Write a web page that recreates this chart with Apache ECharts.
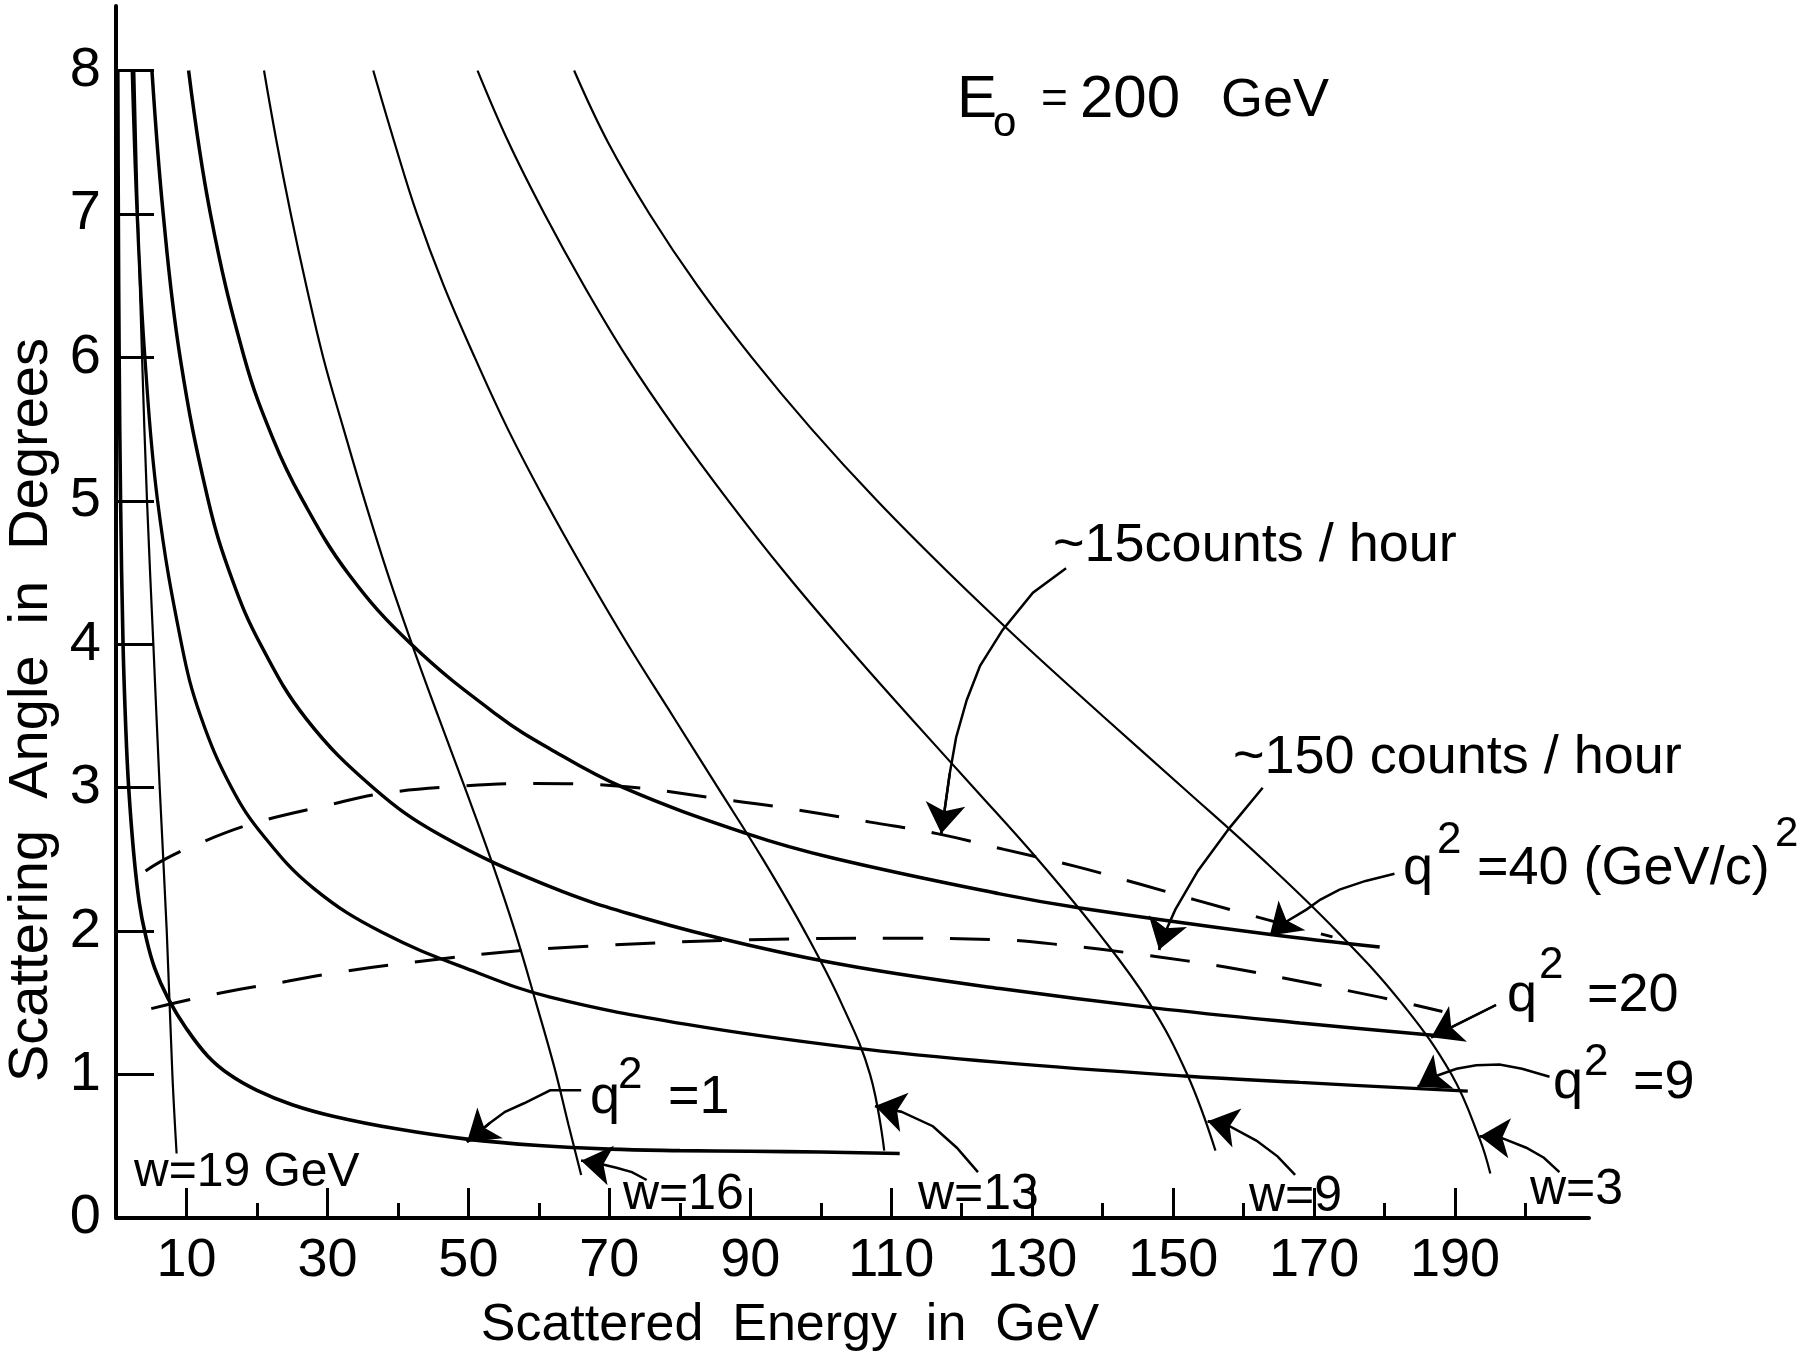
<!DOCTYPE html>
<html>
<head>
<meta charset="utf-8">
<script src="https://cdn.jsdelivr.net/npm/echarts@6/dist/echarts.min.js"></script>
<style>html,body{margin:0;padding:0;background:#fff}#c{width:1806px;height:1360px}</style>
</head>
<body>
<div id="c"></div>
<script>
// ---- tick values ----
var xMajorTicks = [10, 30, 50, 70, 90, 110, 130, 150, 170, 190];
var xMinorTicks = [20, 40, 60, 80, 100, 120, 140, 160, 180, 200];
var yTickLabels = [0, 1, 2, 3, 4, 5, 6, 7, 8];
var yTicks = [1, 2, 3, 4, 5, 6, 7, 8];

// ---- constant q^2 curves [scattered energy GeV, angle deg] ----
var q2_1 = [[0.26,8.0],[0.33,7.0],[0.45,6.0],[0.65,5.0],[1.0,4.0],[1.4,3.4],[1.8,3.0],[2.5,2.55],[3.3,2.2],[4.2,1.97],[5.5,1.74],[7.4,1.53],[10,1.32],[13,1.13],[16.1,1.0],[20,0.89],[25,0.79],[30.8,0.71],[40,0.62],[49.8,0.55],[60,0.505],[70,0.48],[80,0.47],[90,0.465],[100,0.46],[111.2,0.45]];
var q2_9 = [[2.3,8.0],[3.0,7.0],[4.1,6.0],[5.9,5.0],[9.3,4.0],[12,3.5],[16.4,3.0],[21,2.66],[28,2.3],[37.8,1.99],[51.3,1.71],[61.6,1.54],[81,1.35],[104,1.19],[125.4,1.085],[151.6,0.99],[168,0.945],[191.8,0.885]];
var q2_20 = [[5.1,8.0],[6.7,7.0],[9.1,6.0],[13.1,5.0],[16.5,4.45],[20.5,4.0],[27,3.48],[36.5,3.0],[46,2.67],[61.6,2.31],[75,2.09],[90,1.9],[105,1.75],[125.4,1.6],[147.2,1.465],[168,1.36],[190,1.26]];
var q2_40 = [[10.3,8.0],[13.4,7.0],[18.2,6.0],[22.3,5.43],[26.3,5.02],[33,4.49],[41.9,4.0],[54,3.51],[61.6,3.27],[72,3.0],[89.5,2.68],[101.7,2.51],[125.4,2.26],[137,2.16],[163.3,1.98],[179.3,1.89]];

// ---- constant w curves ----
var w19 = [[2.6,8.0],[3.1,7.0],[3.7,6.0],[4.4,5.0],[5.3,4.0],[6.2,3.0],[7.2,2.0],[8.0,1.0],[8.6,0.45]];
var w16 = [[21,8.0],[22.8,7.5],[24.8,7.0],[27,6.5],[29.4,6.0],[32.3,5.5],[35.3,5.0],[38.5,4.5],[42,4.0],[45.7,3.5],[49.5,3.0],[53.2,2.5],[56.6,2.0],[59.6,1.5],[62.2,1.05],[64.2,0.65],[66,0.3]];
var w13 = [[36.5,8.0],[39.5,7.5],[42.7,7.0],[46.5,6.5],[50.9,6.0],[55.6,5.5],[60.9,5.0],[66.6,4.5],[72.6,4.0],[79,3.5],[85.4,3.0],[91.8,2.5],[97.7,2.0],[102.9,1.5],[107,1.0],[109,0.47]];
var w9 = [[51.3,8.0],[55.7,7.5],[60.8,7.0],[66.4,6.5],[72.5,6.0],[79.4,5.5],[86.9,5.0],[94.9,4.5],[103.5,4.0],[112.5,3.5],[121.7,3.0],[130.8,2.5],[139.2,2.0],[146.6,1.5],[152,1.0],[156,0.47]];
var w3 = [[65,8.0],[69.8,7.5],[75.7,7.0],[82.5,6.5],[90.2,6.0],[98.7,5.5],[108,5.0],[118.1,4.5],[128.8,4.0],[140,3.5],[151.4,3.0],[162.7,2.5],[173.2,2.0],[182.4,1.5],[189.5,1.0],[193.5,0.55],[195,0.31]];

// ---- count-rate contours (dashed) ----
var counts15 = [[4.2,2.42],[6.9,2.5],[11.2,2.6],[19.4,2.75],[30.2,2.88],[37.8,2.96],[48.7,3.01],[59.5,3.03],[68.7,3.02],[87.5,2.91],[97.4,2.84],[107,2.76],[116.5,2.68],[126,2.57],[136.3,2.45],[145.1,2.33],[153,2.22],[163.3,2.08],[172.6,1.96]];
var counts150 = [[5,1.46],[15,1.57],[24.3,1.65],[32.4,1.72],[43.3,1.79],[54.1,1.85],[65,1.89],[90,1.94],[110,1.95],[125.4,1.94],[134.9,1.9],[146.5,1.83],[157.4,1.75],[168,1.65],[179.3,1.54],[188.2,1.44]];

// ---- annotation arrows (data coordinates, last point = arrow tip) ----
var arrow15 = [[134.8,4.53],[130.1,4.36],[125.8,4.1],[122.6,3.85],[120.7,3.61],[119.2,3.35],[118.3,3.1],[117.1,2.68]];
var arrow150 = [[162.7,3.0],[158,2.72],[153.5,2.42],[150.3,2.15],[148.5,1.95],[148,1.87]];
var arrowQ40 = [[181.4,2.4],[177.3,2.35],[173.6,2.29],[170.9,2.22],[168.9,2.15],[165.5,2.05],[163.7,1.97]];
var arrowQ20 = [[195.8,1.485],[186.6,1.26]];
var arrowQ9 = [[203.4,0.985],[199.5,1.04],[196.3,1.07],[193,1.065],[190.2,1.04],[187.3,0.99],[184.7,0.915]];
var arrowQ1 = [[66,0.89],[61.6,0.89],[57.9,0.8],[55.2,0.74],[53,0.66],[49.8,0.53]];
var arrowW16 = [[75.3,0.265],[73.2,0.32],[71,0.35],[68.5,0.38],[66,0.4]];
var arrowW13 = [[122.3,0.32],[119.3,0.49],[115.9,0.64],[111.5,0.74],[107.7,0.78]];
var arrowW9 = [[167.3,0.3],[164.8,0.43],[161.8,0.54],[158,0.64],[154.9,0.675]];
var arrowW3 = [[204.8,0.32],[202.6,0.42],[200.1,0.49],[196.5,0.56],[193.5,0.57]];
var arrowList = [arrow15, arrow150, arrowQ40, arrowQ20, arrowQ9, arrowQ1, arrowW16, arrowW13, arrowW9, arrowW3];

var FONT = '"Liberation Sans", Arial, sans-serif';
var chart = echarts.init(document.getElementById('c'), null, {renderer: 'canvas'});

function curve(name, data, width, dashed) {
  return {
    name: name, type: 'line', data: data, smooth: 0.4, symbol: 'none',
    lineStyle: {color: '#000', width: width, type: dashed ? [40, 27] : 'solid'},
    silent: true, z: 3
  };
}
function txt(x, y, s, size, extra) {
  var o = {type: 'text', x: x, y: y, silent: true, z: 10,
    style: {text: s, font: size + 'px ' + FONT, fill: '#000', align: 'left', verticalAlign: 'middle'}};
  if (extra) { for (var k in extra) o[k] = extra[k]; }
  return o;
}

// arrow bodies (polylines) and arrow heads (final segment with arrow symbol)
var arrowBodies = arrowList.map(function (a) { return {coords: a}; });
var arrowHeads = arrowList.map(function (a) { return {coords: [a[a.length - 2], a[a.length - 1]]}; });

var option = {
  animation: false,
  backgroundColor: '#fff',
  grid: {left: 116, right: 217, top: 6, bottom: 142, containLabel: false},
  xAxis: [{
    type: 'value', min: 0, max: 209,
    axisLine: {show: true, lineStyle: {color: '#000', width: 4}},
    axisTick: {show: true, inside: true, length: 30, customValues: xMajorTicks, lineStyle: {color: '#000', width: 3}},
    axisLabel: {show: true, customValues: xMajorTicks, fontSize: 54, fontFamily: FONT, color: '#000', margin: 16},
    splitLine: {show: false}
  }, {
    type: 'value', min: 0, max: 209, position: 'bottom', offset: 0,
    axisLine: {show: false},
    axisTick: {show: true, inside: true, length: 15, customValues: xMinorTicks, lineStyle: {color: '#000', width: 3}},
    axisLabel: {show: false},
    splitLine: {show: false}
  }],
  yAxis: {
    type: 'value', min: 0, max: 8.45,
    axisLine: {show: true, lineStyle: {color: '#000', width: 4}},
    axisTick: {show: true, inside: true, length: 38, customValues: yTicks, lineStyle: {color: '#000', width: 3}},
    axisLabel: {show: true, customValues: yTickLabels, fontSize: 56, fontFamily: FONT, color: '#000', margin: 15},
    splitLine: {show: false}
  },
  series: [
    curve('q2=1', q2_1, 3.6), curve('q2=9', q2_9, 3.3), curve('q2=20', q2_20, 3.5), curve('q2=40', q2_40, 3.5),
    curve('w=19', w19, 2.2), curve('w=16', w16, 2.2), curve('w=13', w13, 2.2), curve('w=9', w9, 2.2), curve('w=3', w3, 2.2),
    curve('~15 counts/hour', counts15, 3, true), curve('~150 counts/hour', counts150, 3, true),
    {
      name: 'arrowBodies', type: 'lines', coordinateSystem: 'cartesian2d', polyline: true,
      lineStyle: {color: '#000', width: 2.5, opacity: 1},
      data: arrowBodies, silent: true, z: 4
    },
    {
      name: 'arrowHeads', type: 'lines', coordinateSystem: 'cartesian2d', polyline: false,
      symbol: ['none', 'arrow'], symbolSize: 30,
      lineStyle: {color: '#000', width: 2.5, opacity: 1, curveness: 0},
      itemStyle: {color: '#000'},
      data: arrowHeads, silent: true, z: 5
    }
  ],
  graphic: [
    // title
    txt(957, 100, 'E', 60), txt(993, 124, 'o', 42), txt(1041, 100, '=', 46), txt(1080, 100, '200', 60), txt(1221, 101, 'GeV', 54),
    // count labels
    txt(1053, 546, '~15counts / hour', 54),
    txt(1233, 758, '~150 counts / hour', 54),
    // q^2 labels
    txt(1403, 869, 'q', 54), txt(1437, 841, '2', 44), txt(1477, 869, '=40 (GeV/c)', 54), txt(1775, 834, '2', 42),
    txt(1507, 996, 'q', 54), txt(1539, 966, '2', 44), txt(1587, 996, '=20', 54),
    txt(1553, 1083, 'q', 54), txt(1584, 1063, '2', 44), txt(1633, 1083, '=9', 54),
    txt(590, 1098, 'q', 54), txt(618, 1076, '2', 44), txt(668, 1098, '=1', 54),
    // w labels
    txt(134, 1173, 'w=19 GeV', 48),
    txt(623, 1195, 'w=16', 50),
    txt(918, 1195, 'w=13', 50),
    txt(1249, 1197, 'w=9', 50),
    txt(1530, 1190, 'w=3', 50),
    // axis titles
    {type: 'text', x: 790, y: 1326, silent: true,
     style: {text: 'Scattered  Energy  in  GeV', font: '52px ' + FONT, fill: '#000', align: 'center', verticalAlign: 'middle'}},
    {type: 'text', x: 32, y: 710, rotation: Math.PI / 2, silent: true,
     style: {text: 'Scattering  Angle  in  Degrees', font: '56px ' + FONT, fill: '#000', align: 'center', verticalAlign: 'middle'}}
  ]
};
chart.setOption(option);
</script>
</body>
</html>
